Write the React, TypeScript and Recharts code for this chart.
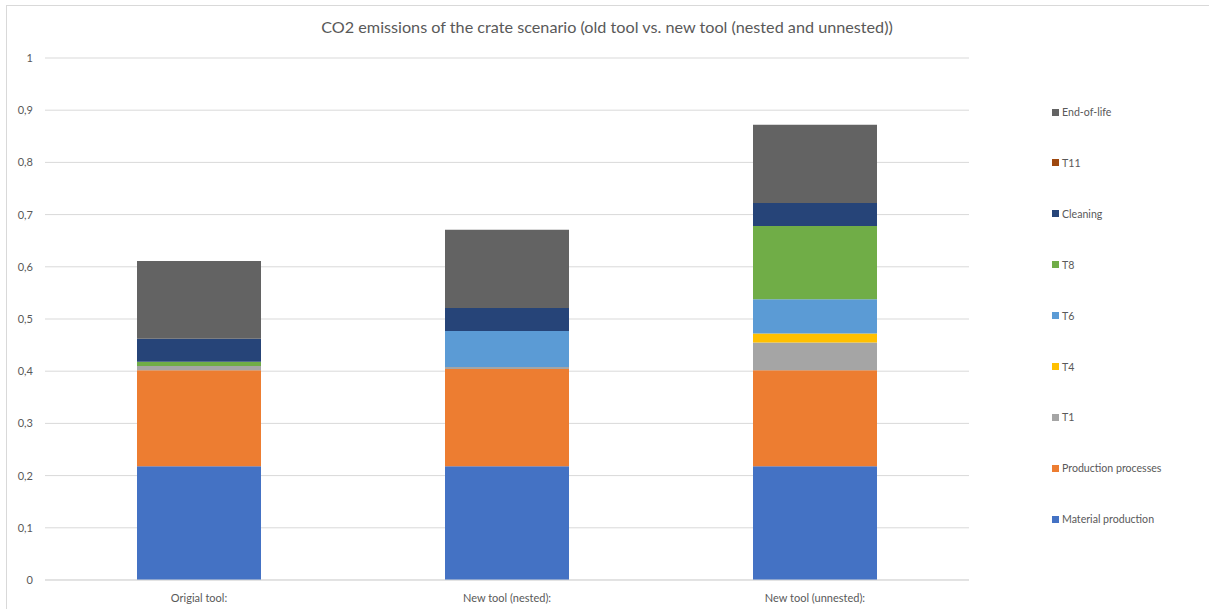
import { BarChart, Bar, XAxis, YAxis, CartesianGrid } from "recharts";

const categories = ["Origial tool:", "New tool (nested):", "New tool (unnested):"];

const materialProduction = [0.218, 0.218, 0.218];
const productionProcesses = [0.184, 0.186, 0.184];
const t1 = [0.008, 0.004, 0.053];
const t4 = [0, 0, 0.017];
const t6 = [0, 0.069, 0.066];
const t8 = [0.008, 0, 0.14];
const cleaning = [0.044, 0.044, 0.044];
const t11 = [0, 0, 0];
const endOfLife = [0.149, 0.15, 0.15];

const yTicks = [0, 0.1, 0.2, 0.3, 0.4, 0.5, 0.6, 0.7, 0.8, 0.9, 1];

const series = [
  { key: "Material production", values: materialProduction, color: "#4472C4" },
  { key: "Production processes", values: productionProcesses, color: "#ED7D31" },
  { key: "T1", values: t1, color: "#A5A5A5" },
  { key: "T4", values: t4, color: "#FFC000" },
  { key: "T6", values: t6, color: "#5B9BD5" },
  { key: "T8", values: t8, color: "#70AD47" },
  { key: "Cleaning", values: cleaning, color: "#264478" },
  { key: "T11", values: t11, color: "#9E480E" },
  { key: "End-of-life", values: endOfLife, color: "#636363" },
];

const data = categories.map((name, i) => {
  const row: Record<string, string | number> = { name };
  series.forEach((s) => {
    row[s.key] = s.values[i];
  });
  return row;
});

const font = "Lato, 'Open Sans', sans-serif";
const textColor = "#595959";

export default function App() {
  return (
    <div
      style={{
        position: "absolute",
        left: 0,
        top: 0,
        width: 1209,
        height: 609,
        background: "#fff",
        fontFamily: font,
        overflow: "hidden",
      }}
    >
      <div
        style={{
          position: "absolute",
          left: 6,
          top: 5,
          width: 1210,
          height: 620,
          border: "1px solid #D9D9D9",
        }}
      />
      <div
        style={{
          position: "absolute",
          left: 0,
          top: 17,
          width: 1214,
          textAlign: "center",
          fontSize: 16.2,
          color: textColor,
        }}
      >
        CO2 emissions of the crate scenario (old tool vs. new tool (nested and unnested))
      </div>
      <div style={{ position: "absolute", left: 0, top: 0 }}>
        <BarChart
          width={1209}
          height={609}
          data={data}
          margin={{ top: 58, right: 240, bottom: 0, left: 0 }}
          barSize={124}
        >
          <CartesianGrid vertical={false} stroke="#D9D9D9" />
          <XAxis
            dataKey="name"
            axisLine={{ stroke: "#D9D9D9" }}
            tickLine={false}
            tickMargin={8}
            height={29}
            tick={{ fontSize: 11, fill: textColor, fontFamily: font }}
          />
          <YAxis
            width={45}
            domain={[0, 1]}
            ticks={yTicks}
            axisLine={false}
            tickLine={false}
            tickMargin={6}
            tickFormatter={(v: number) => String(v).replace(".", ",")}
            tick={{ fontSize: 11, fill: textColor, fontFamily: font }}
          />
          {series.map((s) => (
            <Bar
              key={s.key}
              dataKey={s.key}
              stackId="a"
              fill={s.color}
              isAnimationActive={false}
            />
          ))}
        </BarChart>
      </div>
      {[...series].reverse().map((s, i) => (
        <div
          key={s.key}
          style={{
            position: "absolute",
            left: 1052,
            top: 106 + i * 50.9,
            display: "flex",
            alignItems: "center",
            fontSize: 10.6,
            color: textColor,
            whiteSpace: "nowrap",
          }}
        >
          <span
            style={{
              display: "inline-block",
              width: 7,
              height: 7,
              background: s.color,
              marginRight: 3,
            }}
          />
          {s.key}
        </div>
      ))}
    </div>
  );
}
